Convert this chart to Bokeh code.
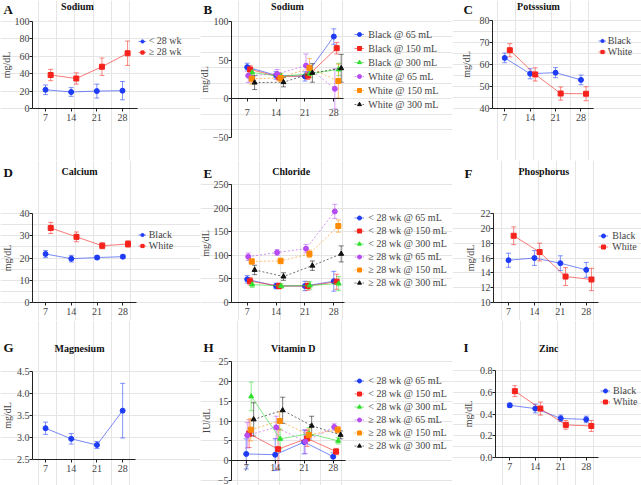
from bokeh.plotting import figure
from bokeh.layouts import row, column
from bokeh.models import (ColumnDataSource, Whisker, TeeHead, Legend, LegendItem, Label,
                          FixedTicker, LinearAxis, Range1d, PrintfTickFormatter)
from bokeh.embed import file_html
from bokeh.resources import INLINE

SERIF = "Liberation Serif"
WEEKS = [7, 14, 21, 28]
DODGE2 = [0, 1.4]
DODGE6 = [0, 0.7, 1.2, 0.25, 1.1, 1.8]

BLUE, RED, GREEN, PURPLE, ORANGE, BLACK = "#1e3cf5", "#f5231c", "#2fe02f", "#b64cf2", "#ff8a00", "#111111"

# ---- data (mean, error) ----
A_labels = ["< 28 wk", "≥ 28 wk"]
A_lt28 = [21.5, 19.0, 20.0, 20.5]
A_lt28_err = [5.5, 5.0, 8.0, 10.5]
A_ge28 = [38.5, 34.5, 48.0, 63.5]
A_ge28_err = [6.5, 6.5, 10.0, 14.0]

B_labels = ["Black @ 65 mL", "Black @ 150 mL", "Black @ 300 mL",
            "White @ 65 mL", "White @ 150 mL", "White @ 300 mL"]
B_black65 = [41.0, 30.5, 29.0, 80.5]
B_black65_err = [5, 5, 6, 10]
B_black150 = [38.0, 28.5, 30.0, 65.5]
B_black150_err = [5, 5, 5, 7.5]
B_black300 = [34.0, 29.0, 32.5, 38.0]
B_black300_err = [4, 4, 5, 8]
B_white65 = [30.0, 32.0, 43.0, 13.0]
B_white65_err = [9, 6, 15, 26]
B_white150 = [26.0, 27.0, 40.0, 23.0]
B_white150_err = [7, 5, 12, 22]
B_white300 = [21.0, 21.5, 33.5, 39.5]
B_white300_err = [9, 6, 12, 18]

BW_labels = ["Black", "White"]
C_black = [63.0, 55.8, 56.3, 53.0]
C_black_err = [2.2, 2.3, 2.3, 2.2]
C_white = [66.5, 55.5, 46.8, 46.7]
C_white_err = [3.0, 3.0, 3.0, 3.2]

D_black = [21.8, 19.7, 20.2, 20.6]
D_black_err = [1.6, 1.5, 0.9, 0.8]
D_white = [33.5, 29.5, 25.5, 26.3]
D_white_err = [2.5, 2.2, 1.4, 1.5]

GA_labels = ["< 28 wk @ 65 mL", "< 28 wk @ 150 mL", "< 28 wk @ 300 mL",
             "≥ 28 wk @ 65 mL", "≥ 28 wk @ 150 mL", "≥ 28 wk @ 300 mL"]
E_lt65 = [49, 35, 35, 45]
E_lt65_err = [8, 6, 10, 21]
E_lt150 = [45, 35, 35, 44]
E_lt150_err = [8, 6, 9, 16]
E_lt300 = [38, 35, 36, 40]
E_lt300_err = [6, 5, 8, 15]
E_ge65 = [97, 106, 114, 193]
E_ge65_err = [8, 6, 9, 15]
E_ge150 = [87, 88, 103, 162]
E_ge150_err = [6, 6, 8, 13]
E_ge300 = [69, 55, 78, 103]
E_ge300_err = [10, 8, 10, 17]

F_black = [15.7, 16.0, 15.3, 14.4]
F_black_err = [0.95, 1.0, 1.0, 1.0]
F_white = [19.0, 16.8, 13.5, 13.1]
F_white_err = [1.2, 1.2, 1.2, 1.5]

G_all = [3.21, 2.97, 2.83, 3.61]
G_all_err = [0.14, 0.12, 0.08, 0.62]

H_lt65 = [1.7, 1.5, 4.7, 1.0]
H_lt65_err = [3.8, 4.0, 3.0, 1.0]
H_lt150 = [6.8, 2.9, 5.6, 2.3]
H_lt150_err = [3.5, 5.0, 2.0, 0.8]
H_lt300 = [16.2, 5.5, 6.8, 5.0]
H_lt300_err = [3.6, 2.5, 1.5, 0.8]
H_ge65 = [6.4, 8.4, 4.8, 8.5]
H_ge65_err = [3.2, 2.8, 3.0, 0.8]
H_ge150 = [7.8, 10.0, 6.5, 7.8]
H_ge150_err = [2.8, 2.3, 1.5, 0.8]
H_ge300 = [10.4, 12.7, 8.8, 6.5]
H_ge300_err = [4.2, 3.3, 2.4, 1.0]

I_black = [0.48, 0.45, 0.36, 0.35]
I_black_err = [0.02, 0.04, 0.03, 0.03]
I_white = [0.61, 0.45, 0.30, 0.29]
I_white_err = [0.05, 0.06, 0.04, 0.05]

STYLE6 = [(BLUE, "circle", "solid"), (RED, "square", "solid"), (GREEN, "triangle", "solid"),
          (PURPLE, "circle", "2 2"), (ORANGE, "square", "2 2"), (BLACK, "triangle", "2 2")]
STYLE2 = [(BLUE, "circle", "solid"), (RED, "square", "solid")]


def panel(cell, frame, xr, yr, yticks, ylabel, letter, letter_pos, title, title_pos,
          series, labels, styles, dodges, legend_spec=None, x_at=None, x_standoff=2,
          ylab_standoff=0, yfmt=None):
    cx0, cy0, cx1, cy1 = cell
    fl, ft, fr, fb = frame
    # the axis box (fl..fr, ft..fb) carries xr / yr; the canvas extends beyond it
    kx = (fr - fl) / (xr[1] - xr[0])
    ky = (fb - ft) / (yr[1] - yr[0])
    x_start = xr[0] - (fl - cx0) / kx
    x_end = xr[1] + (cx1 - fr) / kx
    y_start = yr[0] - (cy1 - fb) / ky
    y_end = yr[1] + (ft - cy0) / ky
    p = figure(width=cx1 - cx0, height=cy1 - cy0,
               x_range=Range1d(x_start, x_end), y_range=Range1d(y_start, y_end),
               output_backend="svg", toolbar_location=None, title=None,
               x_axis_location=None, y_axis_location=None,
               min_border_left=0, min_border_right=0, min_border_top=0, min_border_bottom=0)
    p.outline_line_color = None
    p.background_fill_color = "white"
    p.border_fill_color = "white"

    ya = LinearAxis(ticker=FixedTicker(ticks=yticks), axis_label=ylabel,
                    fixed_location=xr[0], bounds=yr)
    if yfmt is not None:
        ya.formatter = PrintfTickFormatter(format=yfmt)
    ya.major_tick_out = 3
    ya.major_tick_in = 0
    ya.minor_tick_out = 0
    ya.minor_tick_in = 0
    ya.major_label_standoff = 0
    ya.axis_label_standoff = ylab_standoff
    ya.major_label_text_font = SERIF
    ya.major_label_text_font_size = "10px"
    ya.axis_label_text_font = SERIF
    ya.axis_label_text_font_size = "10px"
    ya.axis_label_text_font_style = "normal"
    ya.axis_line_color = "#222222"
    ya.major_tick_line_color = "#222222"
    p.add_layout(ya, "left")

    xa = LinearAxis(ticker=FixedTicker(ticks=WEEKS),
                    fixed_location=(yr[0] if x_at is None else x_at), bounds=xr)
    xa.major_tick_out = 3
    xa.major_tick_in = 0
    xa.minor_tick_out = 0
    xa.minor_tick_in = 0
    xa.major_label_standoff = x_standoff
    xa.major_label_text_font = SERIF
    xa.major_label_text_font_size = "10px"
    xa.axis_line_color = "#222222"
    xa.major_tick_line_color = "#222222"
    p.add_layout(xa, "below")

    items = []
    for (vals, errs), lab, (col, mk, dash), dx in zip(series, labels, styles, dodges):
        src = ColumnDataSource(dict(
            x=[w + dx for w in WEEKS], y=vals,
            lo=[v - e for v, e in zip(vals, errs)],
            hi=[v + e for v, e in zip(vals, errs)]))
        wk = Whisker(source=src, base="x", lower="lo", upper="hi",
                     line_color=col, line_alpha=0.55, line_width=1,
                     upper_head=TeeHead(size=5, line_color=col, line_alpha=0.55, line_width=1),
                     lower_head=TeeHead(size=5, line_color=col, line_alpha=0.55, line_width=1))
        p.add_layout(wk)
        ln = p.line("x", "y", source=src, line_color=col, line_alpha=0.6, line_width=1,
                    line_dash=dash)
        sc = p.scatter("x", "y", source=src, marker=mk, size=5, fill_color=col, line_color=col)
        items.append(LegendItem(label=lab, renderers=[ln, sc]))

    if legend_spec is not None:
        mx, y1, rh, gw, so = legend_spec
        lh = len(items) * rh
        leg = Legend(items=items, padding=0, margin=0, spacing=0,
                     glyph_width=gw, glyph_height=rh, label_height=rh, label_standoff=so,
                     border_line_color=None, background_fill_alpha=0,
                     label_text_font=SERIF, label_text_font_size="10px",
                     location=(mx - gw / 2 - cx0, cy1 - (y1 - rh / 2) - lh))
        p.add_layout(leg, "center")

    lx, ly = letter_pos
    p.add_layout(Label(x=lx - cx0, y=cy1 - ly, x_units="screen", y_units="screen", text=letter,
                       text_font=SERIF, text_font_style="bold", text_font_size="13px",
                       text_align="left", text_baseline="middle", text_color="#111111"))
    tx, ty = title_pos
    p.add_layout(Label(x=tx - cx0, y=cy1 - ty, x_units="screen", y_units="screen", text=title,
                       text_font=SERIF, text_font_style="bold", text_font_size="10px",
                       text_align="center", text_baseline="middle", text_color="#111111"))
    return p


pA = panel((0, 0, 200, 160), (32, 21, 137, 108), (3.45, 32.1), (0, 100), [0, 20, 40, 60, 80, 100],
           "mg/dL", "A", (3, 9), "Sodium", (77, 6),
           [(A_lt28, A_lt28_err), (A_ge28, A_ge28_err)], A_labels, STYLE2, DODGE2,
           legend_spec=(141.7, 42, 10, 8, 3), ylab_standoff=0)

pB = panel((200, 0, 452, 160), (231, 21, 343, 137), (3.19, 30.35), (-50, 100), [-50, 0, 50, 100],
           "mg/dL", "B", (203, 9), "Sodium", (287, 6),
           [(B_black65, B_black65_err), (B_black150, B_black150_err), (B_black300, B_black300_err),
            (B_white65, B_white65_err), (B_white150, B_white150_err), (B_white300, B_white300_err)],
           B_labels, STYLE6, DODGE6, legend_spec=(359.3, 34.3, 14, 10, 4),
           x_at=0, x_standoff=7, ylab_standoff=0)

pC = panel((452, 0, 641, 160), (492, 20, 593, 108), (3.63, 31.45), (40, 80), [40, 50, 60, 70, 80],
           "mg/dL", "C", (463, 9), "Potsssium", (538, 6),
           [(C_black, C_black_err), (C_white, C_white_err)], BW_labels, STYLE2, DODGE2,
           legend_spec=(601.7, 40.7, 11, 8, 2), ylab_standoff=5)

pD = panel((0, 160, 200, 320), (32, 213, 136, 302), (3.45, 31.7), (0, 40), [0, 10, 20, 30, 40],
           "mg/dL", "D", (3, 172), "Calcium", (79, 171),
           [(D_black, D_black_err), (D_white, D_white_err)], BW_labels, STYLE2, DODGE2,
           legend_spec=(141.7, 234, 11, 8, 3), ylab_standoff=4)

pE = panel((200, 160, 452, 320), (231, 184, 344, 302), (3.19, 30.6), (0, 250),
           [0, 50, 100, 150, 200, 250],
           "mg/dL", "E", (203, 173), "Chloride", (290.7, 170.7),
           [(E_lt65, E_lt65_err), (E_lt150, E_lt150_err), (E_lt300, E_lt300_err),
            (E_ge65, E_ge65_err), (E_ge150, E_ge150_err), (E_ge300, E_ge300_err)],
           GA_labels, STYLE6, DODGE6, legend_spec=(359.3, 217.3, 13, 10, 4), ylab_standoff=0)

pF = panel((452, 160, 641, 320), (493, 213, 598, 302), (2.95, 31.3), (10, 22),
           [10, 12, 14, 16, 18, 20, 22],
           "mg/dL", "F", (464, 173), "Phosphorus", (543.3, 171),
           [(F_black, F_black_err), (F_white, F_white_err)], BW_labels, STYLE2, DODGE2,
           legend_spec=(603.3, 235, 11, 10, 4), ylab_standoff=2)

pG = panel((0, 320, 200, 485), (32, 371, 135, 459), (3.45, 31.5), (2.5, 4.5),
           [2.5, 3.0, 3.5, 4.0, 4.5],
           "mg/dL", "G", (3, 347), "Magnesium", (79, 347.7),
           [(G_all, G_all_err)], [""], [STYLE2[0]], [0], legend_spec=None, ylab_standoff=1,
           yfmt="%.1f")

pH = panel((200, 320, 452, 485), (231, 361, 345, 480), (3.45, 30.97), (-5, 25),
           [-5, 0, 5, 10, 15, 20, 25],
           "IU/dL", "H", (203, 347), "Vitamin D", (292.7, 347.7),
           [(H_lt65, H_lt65_err), (H_lt150, H_lt150_err), (H_lt300, H_lt300_err),
            (H_ge65, H_ge65_err), (H_ge150, H_ge150_err), (H_ge300, H_ge300_err)],
           GA_labels, STYLE6, DODGE6, legend_spec=(359.3, 380, 13, 10, 4),
           x_at=0, x_standoff=0, ylab_standoff=3)

pI = panel((452, 320, 641, 485), (495, 370, 598, 457), (3.08, 31.37), (0, 0.8),
           [0.0, 0.2, 0.4, 0.6, 0.8],
           "mg/dL", "I", (463, 347), "Zinc", (548.3, 348.3),
           [(I_black, I_black_err), (I_white, I_white_err)], BW_labels, STYLE2, DODGE2,
           legend_spec=(605, 390, 11, 10, 3), ylab_standoff=3, yfmt="%.1f")

layout = column(row(pA, pB, pC), row(pD, pE, pF), row(pG, pH, pI))

open("out.html", "w").write(file_html(layout, INLINE))
